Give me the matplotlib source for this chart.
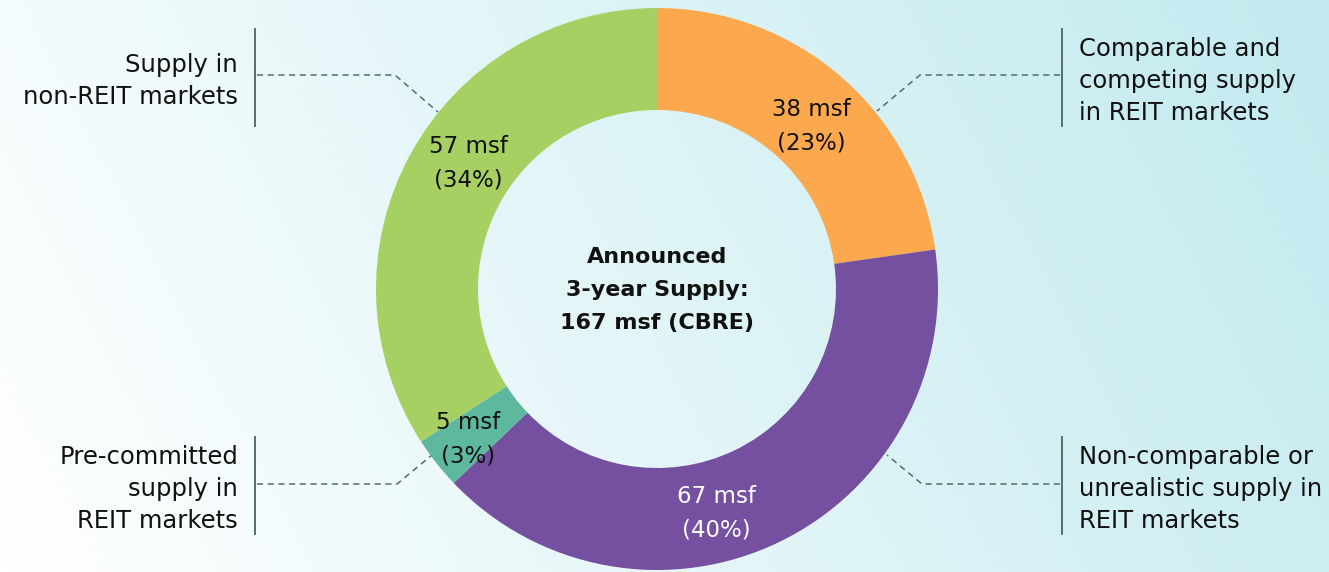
import numpy as np
import matplotlib
matplotlib.use("Agg")
import matplotlib.pyplot as plt
from matplotlib.colors import LinearSegmentedColormap

plt.rcParams['font.family'] = ['DejaVu Sans']

# data
segments = ["Comparable and\ncompeting supply\nin REIT markets",
            "Non-comparable or\nunrealistic supply in\nREIT markets",
            "Pre-committed\nsupply in\nREIT markets",
            "Supply in\nnon-REIT markets"]
msf = [38, 67, 5, 57]
pct = [23, 40, 3, 34]
colors = ["#FBA84E", "#7550A0", "#5EB89E", "#A6D062"]
total_label = "Announced\n3-year Supply:\n167 msf (CBRE)"

W, H = 1329, 572
fig = plt.figure(figsize=(W/100, H/100), dpi=100)
ax = fig.add_axes([0, 0, 1, 1])

# background gradient
xx, yy = np.meshgrid(np.linspace(0, 1, 300), np.linspace(0, 1, 130))
t = 0.82*xx + 0.18*yy
cmap = LinearSegmentedColormap.from_list("bg", ["#FFFFFF", "#C2EAEF"])
ax.imshow(t, cmap=cmap, extent=[0, W, 0, H], origin='lower', aspect='auto', zorder=0, vmin=0, vmax=1)

cx, cy, R = 657, H - 289, 281
wedges, _ = ax.pie(msf, colors=colors, startangle=90, counterclock=False,
                   radius=R, center=(cx, cy), frame=True,
                   wedgeprops=dict(width=102, linewidth=0))
for w in wedges:
    w.set_zorder(2)
ax.set_xlim(0, W)
ax.set_ylim(0, H)
ax.set_aspect('equal')
ax.axis('off')

# slice labels
lab_pos = [(811, 126), (716, 513), (468, 439), (468, 163)]
lab_col = ["#111111", "white", "#111111", "#111111"]
for (x, y), m, p, c in zip(lab_pos, msf, pct, lab_col):
    ax.text(x, H - y, f"{m} msf\n({p}%)", ha='center', va='center', fontsize=16.5,
            color=c, linespacing=1.58, zorder=3)

ax.text(cx, H - 290, total_label, ha='center', va='center', fontsize=16,
        fontweight='bold', color="#111111", linespacing=1.82, zorder=3)

# side labels with bars and dashed leaders
dash_col = "#4F6E6A"
side = [
    dict(txt=segments[0], tx=1079, ty=81, ha='left', bx=1062, by=(29, 126),
         lead=[(1060, 75), (920, 75), (877, 111)]),
    dict(txt=segments[1], tx=1079, ty=489, ha='left', bx=1062, by=(437, 534),
         lead=[(1060, 484), (922, 484), (887, 455)]),
    dict(txt=segments[2], tx=238, ty=489, ha='right', bx=255, by=(437, 534),
         lead=[(257, 484), (397, 484), (432, 455)]),
    dict(txt=segments[3], tx=238, ty=81, ha='right', bx=255, by=(29, 126),
         lead=[(257, 75), (395, 75), (438, 112)]),
]
for s in side:
    ax.text(s['tx'], H - s['ty'], s['txt'], ha=s['ha'], va='center', fontsize=17.5,
            color="#111111", linespacing=1.4, zorder=3)
    ax.plot([s['bx'], s['bx']], [H - s['by'][0], H - s['by'][1]], color="#4A6460", lw=1.3, zorder=3)
    lx, ly = zip(*s['lead'])
    ax.plot(lx, [H - v for v in ly], color=dash_col, lw=1.1, ls=(0, (4, 3)), zorder=1.5)

fig.savefig("out.png", dpi=100)
